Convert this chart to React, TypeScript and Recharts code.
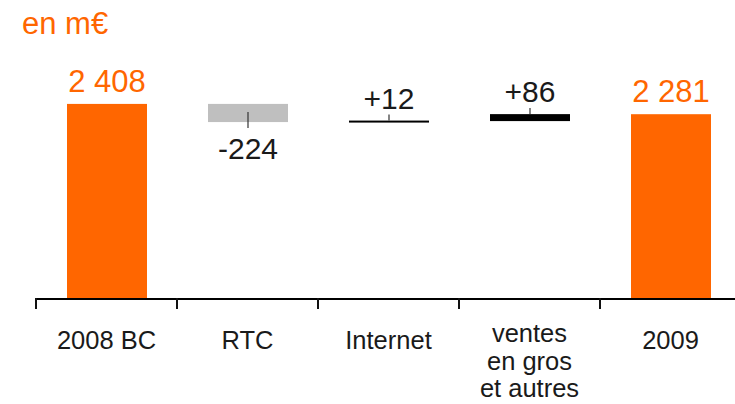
import React from 'react';
import { BarChart, Bar, XAxis, YAxis, Cell, LabelList } from 'recharts';

const categories = ['2008 BC', 'RTC', 'Internet', 'ventes\nen gros\net autres', '2009'];
const amounts = [2408, -224, 12, 86, 2281];
const isTotal = [true, false, false, false, true];
const barColors = ['#ff6600', '#bfbfbf', '#000000', '#000000', '#ff6600'];

const ORANGE = '#ff6600';
const INK = '#1a1a1a';
const FONT = '"Liberation Sans", Arial, Helvetica, sans-serif';

const CHART_W = 741;
const LEFT = 36;
const BAND = (CHART_W - LEFT) / categories.length;

// waterfall: invisible base + visible step
let running = 0;
const data = categories.map((name, i) => {
  const v = amounts[i];
  if (isTotal[i]) {
    running = v;
    return { name, base: 0, size: v };
  }
  const from = running;
  running = from + v;
  return { name, base: Math.min(from, running), size: Math.abs(v) };
});

const fmt = (v: number, total: boolean) => {
  const s = Math.abs(v).toString().replace(/\B(?=(\d{3})+(?!\d))/g, ' ');
  if (total) return s;
  return (v < 0 ? '-' : '+') + s;
};

const CategoryTick = (props: any) => {
  const { x, y, payload } = props;
  const lines = String(payload.value).split('\n');
  const left = x - BAND / 2;
  return (
    <g>
      <line x1={left} x2={left} y1={y - 1} y2={y + 10} stroke="#111" strokeWidth={2} />
      <text x={x} y={y + 50} textAnchor="middle" fontFamily={FONT} fontSize={25.5} fill={INK}>
        {lines.map((l, i) => (
          <tspan key={i} x={x} dy={i === 0 ? (lines.length > 1 ? -7 : 0) : 27.5}>{l}</tspan>
        ))}
      </text>
    </g>
  );
};

const StepShape = (props: any) => {
  const { x, y, width, height, fill } = props;
  if (height < 2) {
    return <rect x={x} y={y + height / 2 - 1} width={width} height={2} fill={fill} />;
  }
  return <rect x={x} y={y} width={width} height={height} fill={fill} />;
};

const ValueLabel = (props: any) => {
  const { x, y, width, height, index } = props;
  const v = amounts[index];
  const total = isTotal[index];
  const cx = x + width / 2;
  const text = fmt(v, total);
  if (total) {
    return (
      <text x={cx} y={y - 12} textAnchor="middle" fontFamily={FONT} fontSize={31} fill={ORANGE}>{text}</text>
    );
  }
  if (v < 0) {
    const bottom = y + height;
    return (
      <g>
        <line x1={cx} x2={cx} y1={bottom - 10} y2={bottom + 6} stroke="#333" strokeWidth={1.2} />
        <text x={cx} y={bottom + 37} textAnchor="middle" fontFamily={FONT} fontSize={30} fill={INK}>{text}</text>
      </g>
    );
  }
  const top = height < 2 ? y + height / 2 - 1 : y;
  return (
    <g>
      <line x1={cx} x2={cx} y1={top - 6} y2={top} stroke="#333" strokeWidth={1.2} />
      <text x={cx} y={top - 12} textAnchor="middle" fontFamily={FONT} fontSize={30} fill={INK}>{text}</text>
    </g>
  );
};

export default function App() {
  return (
    <div style={{ position: 'absolute', left: 0, top: 0, width: 735, height: 404, overflow: 'hidden', background: '#fff' }}>
      <div
        style={{
          position: 'absolute',
          left: 22,
          top: 8,
          fontFamily: FONT,
          fontSize: 31,
          lineHeight: '31px',
          color: ORANGE,
        }}
      >
        en m€
      </div>
      <BarChart
        width={CHART_W}
        height={404}
        data={data}
        margin={{ top: 60, right: 0, bottom: 5, left: LEFT }}
        barSize={80}
      >
        <XAxis
          dataKey="name"
          height={100}
          interval={0}
          axisLine={{ stroke: '#000', strokeWidth: 2 }}
          tickLine={false}
          tickSize={0}
          tickMargin={0}
          tick={<CategoryTick />}
        />
        <YAxis hide domain={[0, 2950]} />
        <Bar dataKey="base" stackId="w" fill="transparent" isAnimationActive={false} />
        <Bar dataKey="size" stackId="w" isAnimationActive={false} shape={<StepShape />}>
          {data.map((_, i) => (
            <Cell key={i} fill={barColors[i]} />
          ))}
          <LabelList dataKey="size" content={<ValueLabel />} />
        </Bar>
      </BarChart>
    </div>
  );
}
